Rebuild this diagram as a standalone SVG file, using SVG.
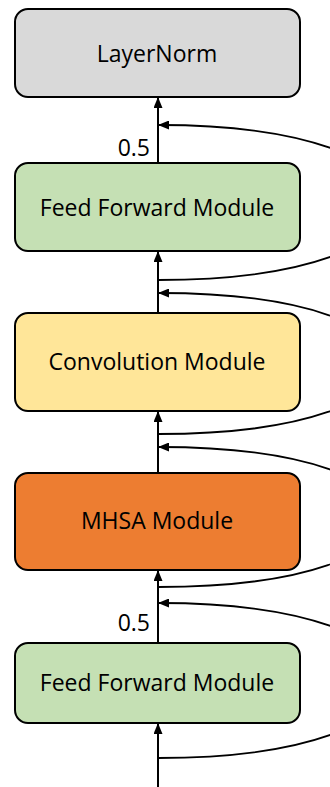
<svg xmlns="http://www.w3.org/2000/svg" width="330" height="787" viewBox="0 0 330 787">
<style>
.box{stroke:#000;stroke-width:2}
.lbl{font-family:"Open Sans","Liberation Sans",sans-serif;font-size:23px;fill:#000;text-anchor:middle}
.num{font-family:"Open Sans","Liberation Sans",sans-serif;font-size:23px;fill:#000;text-anchor:end}
.ln{fill:none;stroke:#000;stroke-width:2}
.cv{fill:none;stroke:#000;stroke-width:1.8}
</style>
<defs>
<marker id="ah" markerUnits="userSpaceOnUse" markerWidth="11" markerHeight="9" refX="10" refY="4.5" orient="auto">
<path d="M0,0 L11,4.5 L0,9 z" fill="#000"/>
</marker>
</defs>
<g id="connectors">
<path class="ln" d="M158,787 V724" marker-end="url(#ah)"/>
<path class="ln" d="M158,642 V571" marker-end="url(#ah)"/>
<path class="ln" d="M158,472 V412" marker-end="url(#ah)"/>
<path class="ln" d="M158,312 V252" marker-end="url(#ah)"/>
<path class="ln" d="M158,162 V98" marker-end="url(#ah)"/>
<path class="cv" d="M158,280 C470,280 470,125 159,125" marker-end="url(#ah)"/>
<path class="cv" d="M158,434 C460,434 460,293 159,293" marker-end="url(#ah)"/>
<path class="cv" d="M158,587 C460,587 460,447 159,447" marker-end="url(#ah)"/>
<path class="cv" d="M158,758 C470,758 470,603 159,603" marker-end="url(#ah)"/>
<text class="num" x="150" y="156">0.5</text>
<text class="num" x="150" y="631">0.5</text>
</g>
<g id="layernorm">
<rect class="box" x="15" y="9" width="285" height="88" rx="13" fill="#d9d9d9"/>
<text class="lbl" x="157" y="62">LayerNorm</text>
</g>
<g id="ffn-top">
<rect class="box" x="15" y="163" width="285" height="88" rx="13" fill="#c5e0b4"/>
<text class="lbl" x="157" y="216">Feed Forward Module</text>
</g>
<g id="conv">
<rect class="box" x="15" y="313" width="285" height="98" rx="13" fill="#ffe699"/>
<text class="lbl" x="157" y="370">Convolution Module</text>
</g>
<g id="mhsa">
<rect class="box" x="15" y="473" width="285" height="97" rx="13" fill="#ed7d31"/>
<text class="lbl" x="157" y="529">MHSA Module</text>
</g>
<g id="ffn-bottom">
<rect class="box" x="15" y="643" width="285" height="80" rx="13" fill="#c5e0b4"/>
<text class="lbl" x="157" y="691">Feed Forward Module</text>
</g>
</svg>
